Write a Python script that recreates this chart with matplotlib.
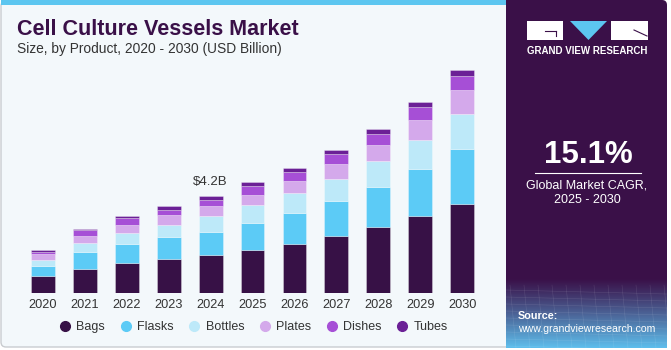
import numpy as np
import matplotlib.pyplot as plt
from matplotlib.patches import FancyBboxPatch, Rectangle, Polygon
from matplotlib.lines import Line2D

plt.rcParams['font.family'] = ['Liberation Sans', 'DejaVu Sans']

YEARS = ["2020", "2021", "2022", "2023", "2024", "2025",
         "2026", "2027", "2028", "2029", "2030"]
BAGS = [0.75, 1.06, 1.32, 1.48, 1.67, 1.87, 2.11, 2.47, 2.85, 3.35, 3.85]
FLASKS = [0.43, 0.72, 0.81, 0.94, 0.98, 1.18, 1.34, 1.52, 1.75, 2.00, 2.39]
BOTTLES = [0.26, 0.40, 0.47, 0.53, 0.69, 0.76, 0.89, 0.96, 1.12, 1.28, 1.51]
PLATES = [0.24, 0.30, 0.35, 0.42, 0.43, 0.45, 0.52, 0.65, 0.70, 0.86, 1.01]
DISHES = [0.12, 0.24, 0.29, 0.23, 0.26, 0.35, 0.39, 0.40, 0.46, 0.55, 0.63]
TUBES = [0.06, 0.06, 0.09, 0.16, 0.17, 0.19, 0.14, 0.17, 0.23, 0.20, 0.23]
SERIES = ["Bags", "Flasks", "Bottles", "Plates", "Dishes", "Tubes"]
COLOURS = ["#371146", "#5ccbf6", "#bde9f9", "#d4a9eb", "#a64fd6", "#6b2096"]
LABEL_YEAR = "2024"
LABEL_TEXT = "$4.2B"

DARK = "#3a1048"
BG = "#f3f8fb"

fig = plt.figure(figsize=(6.71, 3.5), dpi=100)
fig.patch.set_facecolor("white")

# decoration layer in pixel coordinates
deco = fig.add_axes([0, 0, 1, 1], zorder=0)
deco.axis("off")
deco.add_patch(FancyBboxPatch((1, 1), 520, 346, boxstyle="round,pad=0,rounding_size=5",
                              facecolor=BG, edgecolor="#c9ccd0", lw=1))
deco.add_patch(Rectangle((1, 0), 505, 5, facecolor="#5cc6f0", lw=0))
deco.add_patch(FancyBboxPatch((506, 0), 161, 348, boxstyle="round,pad=0,rounding_size=5",
                              facecolor=DARK, edgecolor="none"))
deco.add_patch(Rectangle((506, 0), 10, 348, facecolor=DARK, lw=0))
# gradient at bottom of the dark panel
grad = np.linspace(0, 1, 100)[:, None]
top = np.array([0x3a, 0x10, 0x48]) / 255
bot = np.array([0x5e, 0xbe, 0xec]) / 255
img = top + (bot - top) * grad[..., None] ** 1.1
deco.imshow(img, extent=[506, 667, 348, 278], aspect="auto", zorder=1)
for k in range(9):
    yy = 290 + k * 7
    deco.plot([506, 667], [yy, yy + 4], color="white", lw=0.4, alpha=0.12, zorder=2)
for k in range(12):
    xx = 510 + k * 14
    deco.plot([xx, xx + 6], [285, 348], color="white", lw=0.4, alpha=0.12, zorder=2)
deco.set_xlim(0, 671)
deco.set_ylim(350, 0)

# logo
deco.add_patch(Rectangle((527, 21), 36, 19, facecolor="white", lw=0, zorder=3))
deco.plot([545, 556], [31, 31], color=DARK, lw=0.8, zorder=4)
deco.plot([556, 556], [31, 36], color=DARK, lw=0.8, zorder=4)
deco.add_patch(Polygon([[570, 21], [607, 21], [588.5, 40]], closed=True,
                       facecolor="#5cc6f0", lw=0, zorder=3))
deco.add_patch(Rectangle((611, 21), 37, 19, facecolor="white", lw=0, zorder=3))
deco.plot([634, 647], [30, 36], color=DARK, lw=0.8, zorder=4)
deco.text(587.5, 51, "GRAND VIEW RESEARCH", color="white", fontsize=7,
          fontweight="bold", ha="center", va="center", zorder=3)

deco.text(588, 155, "15.1%", color="white", fontsize=22.5, fontweight="bold",
          ha="center", va="center", zorder=3)
deco.plot([535, 641], [173, 173], color="white", lw=0.8, zorder=3)
deco.text(587, 186, "Global Market CAGR,", color="white", fontsize=9,
          ha="center", va="center", zorder=3)
deco.text(587, 200, "2025 - 2030", color="white", fontsize=9,
          ha="center", va="center", zorder=3)
deco.text(518, 316, "Source:", color="white", fontsize=7.8, fontweight="bold",
          ha="left", va="center", zorder=3)
deco.text(518, 329, "www.grandviewresearch.com", color="white", fontsize=7.6,
          ha="left", va="center", zorder=3)

deco.text(17, 35, "Cell Culture Vessels Market", color="#3a1048", fontsize=15.5,
          fontweight="bold", ha="left", va="baseline")
deco.text(17, 53, "Size, by Product, 2020 - 2030 (USD Billion)", color="#333333",
          fontsize=9.9, ha="left", va="baseline")

# chart
ax = fig.add_axes([13.7 / 671, 1 - 293.3 / 350, 477.7 / 671, 231.7 / 350], zorder=2)
ax.set_facecolor("none")
x = np.arange(len(YEARS))
values = [BAGS, FLASKS, BOTTLES, PLATES, DISHES, TUBES]
bottom = np.zeros(len(YEARS))
for name, vals, col in zip(SERIES, values, COLOURS):
    ax.bar(x, vals, 0.57, bottom=bottom, color=col, label=name,
           edgecolor=(1, 1, 1, 0.35), linewidth=0.6)
    bottom += np.array(vals)
i = YEARS.index(LABEL_YEAR)
ax.annotate(LABEL_TEXT, (x[i], bottom[i]), xytext=(0, 6), textcoords="offset points",
            ha="center", va="bottom", fontsize=9.5, color="#333333")
ax.set_xlim(-0.7, 10.7)
ax.set_ylim(0, 10)
ax.set_xticks(x)
ax.set_xticklabels(YEARS, fontsize=9.2, color="#333333")
ax.tick_params(axis="x", length=0, pad=4)
ax.set_yticks([])
for s in ax.spines.values():
    s.set_visible(False)

handles = [Line2D([], [], marker="o", ls="", markersize=7, color=c) for c in COLOURS]
ax.legend(handles, SERIES, loc="center", bbox_to_anchor=(0.503, -0.145), ncol=6,
          frameon=False, fontsize=9, handlelength=0.8, handletextpad=0.5,
          columnspacing=1.25, labelcolor="#333333")

fig.savefig("out.png", dpi=100, facecolor="white")
